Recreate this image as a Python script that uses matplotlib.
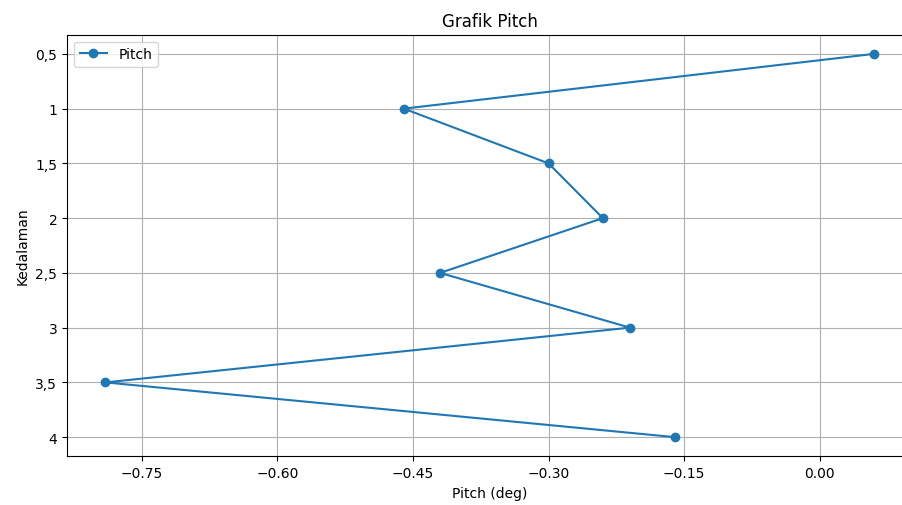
import matplotlib.pyplot as plt

kedalaman = [0.5, 1, 1.5, 2, 2.5, 3, 3.5, 4]
label_kedalaman = ['0,5', '1', '1,5', '2', '2,5', '3', '3,5', '4']
pitch = [0.06, -0.46, -0.30, -0.24, -0.42, -0.21, -0.79, -0.16]
x_ticks = [-0.75, -0.60, -0.45, -0.30, -0.15, 0.00]


def main():
    fig = plt.figure(figsize=(9.02, 5.06), dpi=100)
    ax = fig.add_subplot(111)

    ax.plot(pitch, kedalaman, marker='o', color='#1f77b4', label='Pitch')

    ax.set_yticks(kedalaman)
    ax.set_yticklabels(label_kedalaman)
    ax.invert_yaxis()
    ax.set_xticks(x_ticks)
    ax.set_xticklabels([('\u2212%.2f' % abs(t)) if t < 0 else '%.2f' % t for t in x_ticks])

    ax.grid(True)
    ax.set_title('Grafik Pitch')
    ax.set_xlabel('Pitch (deg)')
    ax.set_ylabel('Kedalaman')
    ax.legend(loc='upper left')

    # gambar asli terpotong di sisi kanan
    fig.subplots_adjust(left=0.0743, right=1.0117, top=0.9294, bottom=0.0962)
    fig.savefig('out.png')


if __name__ == '__main__':
    main()
